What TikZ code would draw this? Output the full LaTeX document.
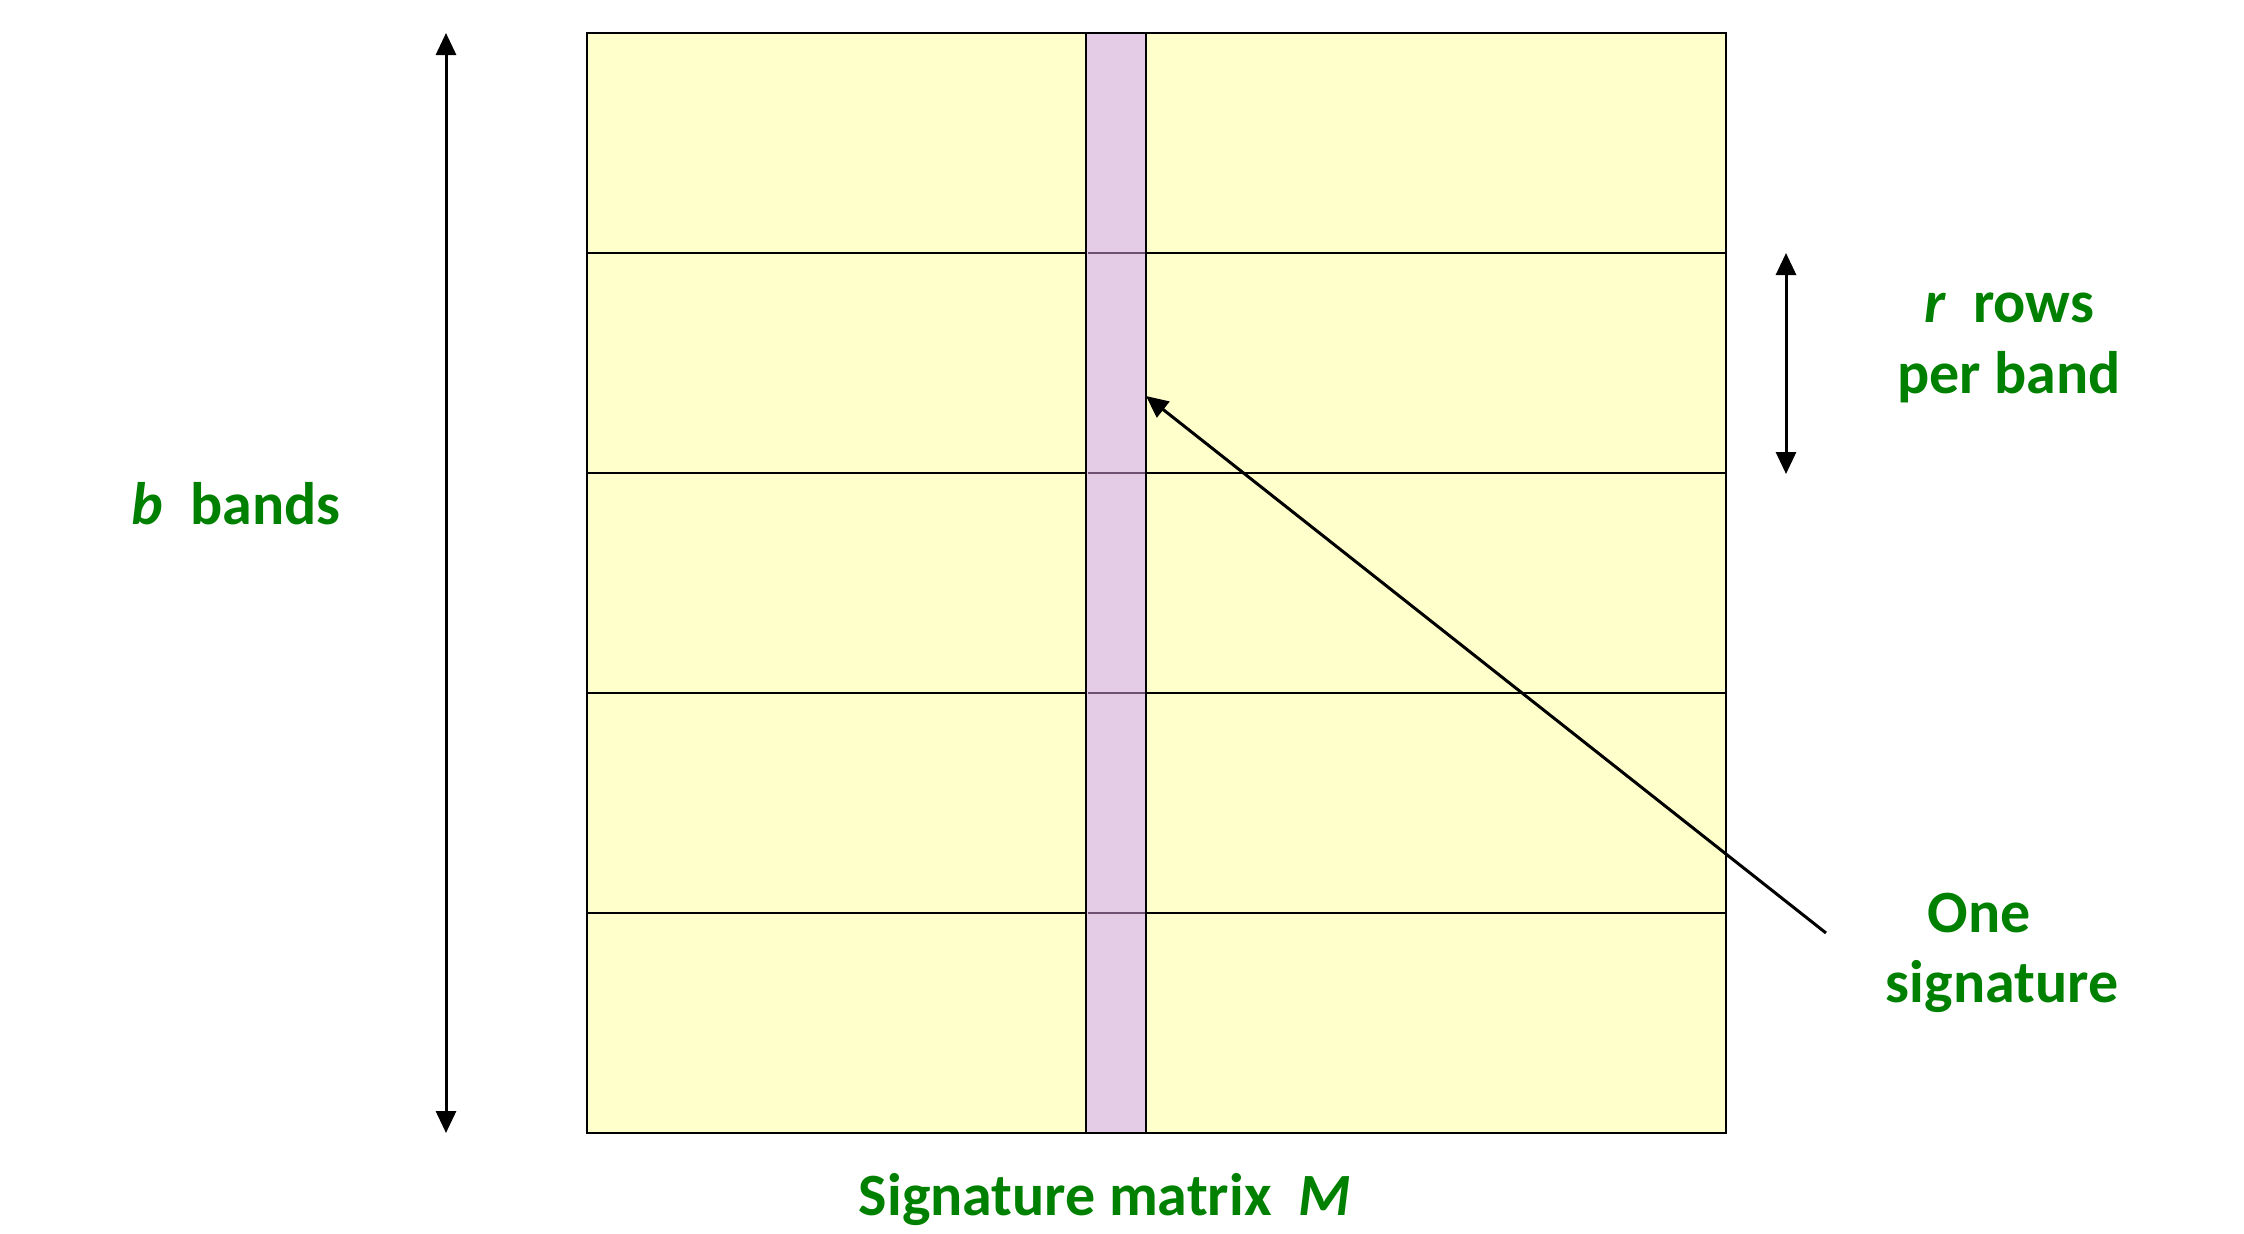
\documentclass[tikz,border=0pt]{standalone}
\usepackage{fontspec}
\setmainfont{Carlito}
\usetikzlibrary{arrows.meta}
\definecolor{bandyellow}{HTML}{FFFFCC}
\definecolor{sigpurple}{HTML}{E4CCE6}
\definecolor{sigline}{HTML}{6E5073}
\definecolor{labelgreen}{HTML}{008000}
\begin{document}
\begin{tikzpicture}[x=1pt,y=-1pt,
  bandbox/.style={draw=black,line width=2.5pt,fill=bandyellow},
  lbl/.style={text=labelgreen,font=\fontsize{60}{70}\selectfont\bfseries,align=center,inner sep=0pt},
  arr/.style={line width=3pt,-{Triangle[width=20pt,length=22pt]}},
  dbl/.style={line width=3pt,{Triangle[width=20pt,length=22pt]}-{Triangle[width=20pt,length=22pt]}}]
\useasboundingbox (0,0) rectangle (2244,1234);
% bands
\foreach \i in {0,...,4} {
  \draw[bandbox] (587,33+220*\i) rectangle (1726,253+220*\i);
}
% signature column
\node[draw=black,line width=2.5pt,fill=sigpurple,minimum width=60pt,minimum height=1100pt,inner sep=0pt,outer sep=0pt,anchor=north west] (sig) at (1086,33) {};
\foreach \i in {1,...,4} {
  \draw[sigline,line width=2.5pt] (1087.5,33+220*\i) -- (1144.5,33+220*\i);
}
% b bands arrow
\coordinate (btop) at (446,33);
\coordinate (bbot) at (446,1133);
\draw[dbl] (btop) -- (bbot);
% r rows arrow
\coordinate (rtop) at (1786,253);
\coordinate (rbot) at (1786,474);
\draw[dbl] (rtop) -- (rbot);
% signature pointer
\coordinate (ptail) at (1826,933);
\coordinate (ptip) at (1146,396);
\draw[arr] (ptail) -- (ptip);
% labels
\node[lbl] (blabel) at (236,504) {\textit{b}\ \ bands};
\node[lbl,anchor=base] (mlabel) at (1105,1215) {Signature matrix\ \ \textit{M}};
\node[lbl,anchor=base] (rlabel1) at (2009,322) {\textit{r}\ \ rows};
\node[lbl,anchor=base] (rlabel2) at (2009,393) {per band};
\node[lbl,anchor=base] (olabel1) at (1979,932) {One};
\node[lbl,anchor=base] (olabel2) at (2002,1002) {signature};
\end{tikzpicture}
\end{document}
